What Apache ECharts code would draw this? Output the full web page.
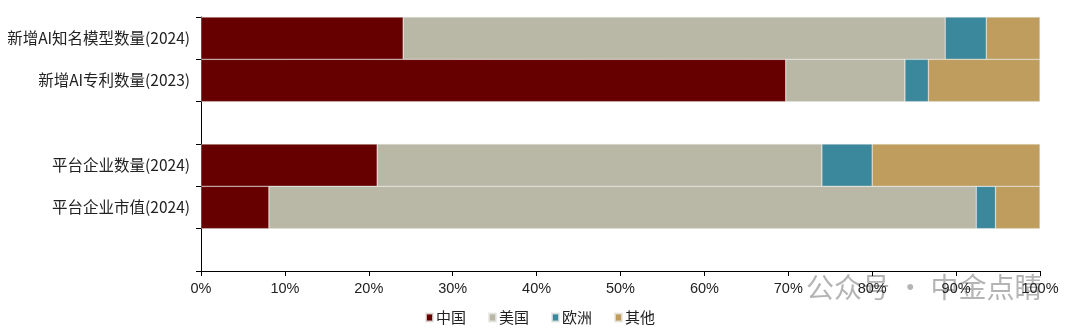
<!DOCTYPE html>
<html><head><meta charset="utf-8">
<script src="https://cdn.jsdelivr.net/npm/echarts@6/dist/echarts.min.js"></script>
<style>html,body{margin:0;padding:0;background:#fff}#c{width:1080px;height:330px}</style>
</head><body><div id="c"></div>
<script>
const categories = ['新增AI知名模型数量(2024)', '新增AI专利数量(2023)', '', '平台企业数量(2024)', '平台企业市值(2024)', ''];
const seriesNames = ['中国', '美国', '欧洲', '其他'];
const china = [24.1, 69.7, null, 21.0, 8.1, null];
const usa = [64.6, 14.2, null, 53.0, 84.3, null];
const europe = [4.9, 2.8, null, 6.0, 2.3, null];
const other = [6.4, 13.3, null, 20.0, 5.3, null];
const colors = ['#660000', '#B9B8A6', '#3B889C', '#BE9D5E'];
const font = '"Noto Sans CJK SC", "Liberation Sans", sans-serif';
const latin = '"Liberation Sans", "Noto Sans CJK SC", sans-serif';

const chart = echarts.init(document.getElementById('c'), null, {renderer: 'canvas'});
const dataSets = [china, usa, europe, other];
chart.setOption({
  animation: false,
  color: colors,
  grid: {left: 201, right: 40, top: 17, bottom: 59, containLabel: false},
  legend: {
    data: seriesNames, bottom: 0, left: 'center',
    itemWidth: 7, itemHeight: 8, itemGap: 22, icon: 'rect',
    textStyle: {fontSize: 15, color: '#222', fontFamily: font, padding: [0, 0, 0, -2]}
  },
  xAxis: {
    type: 'value', min: 0, max: 100, interval: 10,
    axisLine: {show: true, lineStyle: {color: '#000', width: 1}},
    axisTick: {show: true, length: 5, lineStyle: {color: '#000'}},
    splitLine: {show: false},
    axisLabel: {formatter: '{value}%', fontSize: 14.5, color: '#222', margin: 11, fontFamily: latin}
  },
  yAxis: {
    type: 'category', data: categories, inverse: true,
    axisLine: {show: true, lineStyle: {color: '#000', width: 1}},
    axisTick: {show: true, length: 5, lineStyle: {color: '#000'}},
    axisLabel: {fontSize: 15.5, color: '#222', margin: 11, fontFamily: font}
  },
  series: dataSets.map((d, i) => ({
    name: seriesNames[i], type: 'bar', stack: 'total', data: d,
    barCategoryGap: 0, barWidth: '100%',
    itemStyle: {borderColor: 'rgba(230,230,225,0.8)', borderWidth: 0.5}
  })),
  graphic: [{
    type: 'text', left: 806, top: 273,
    style: {text: '公众号 · 中金点睛', fontSize: 28, fill: 'rgba(130,130,130,0.6)', fontFamily: font}
  }]
});
</script></body></html>
